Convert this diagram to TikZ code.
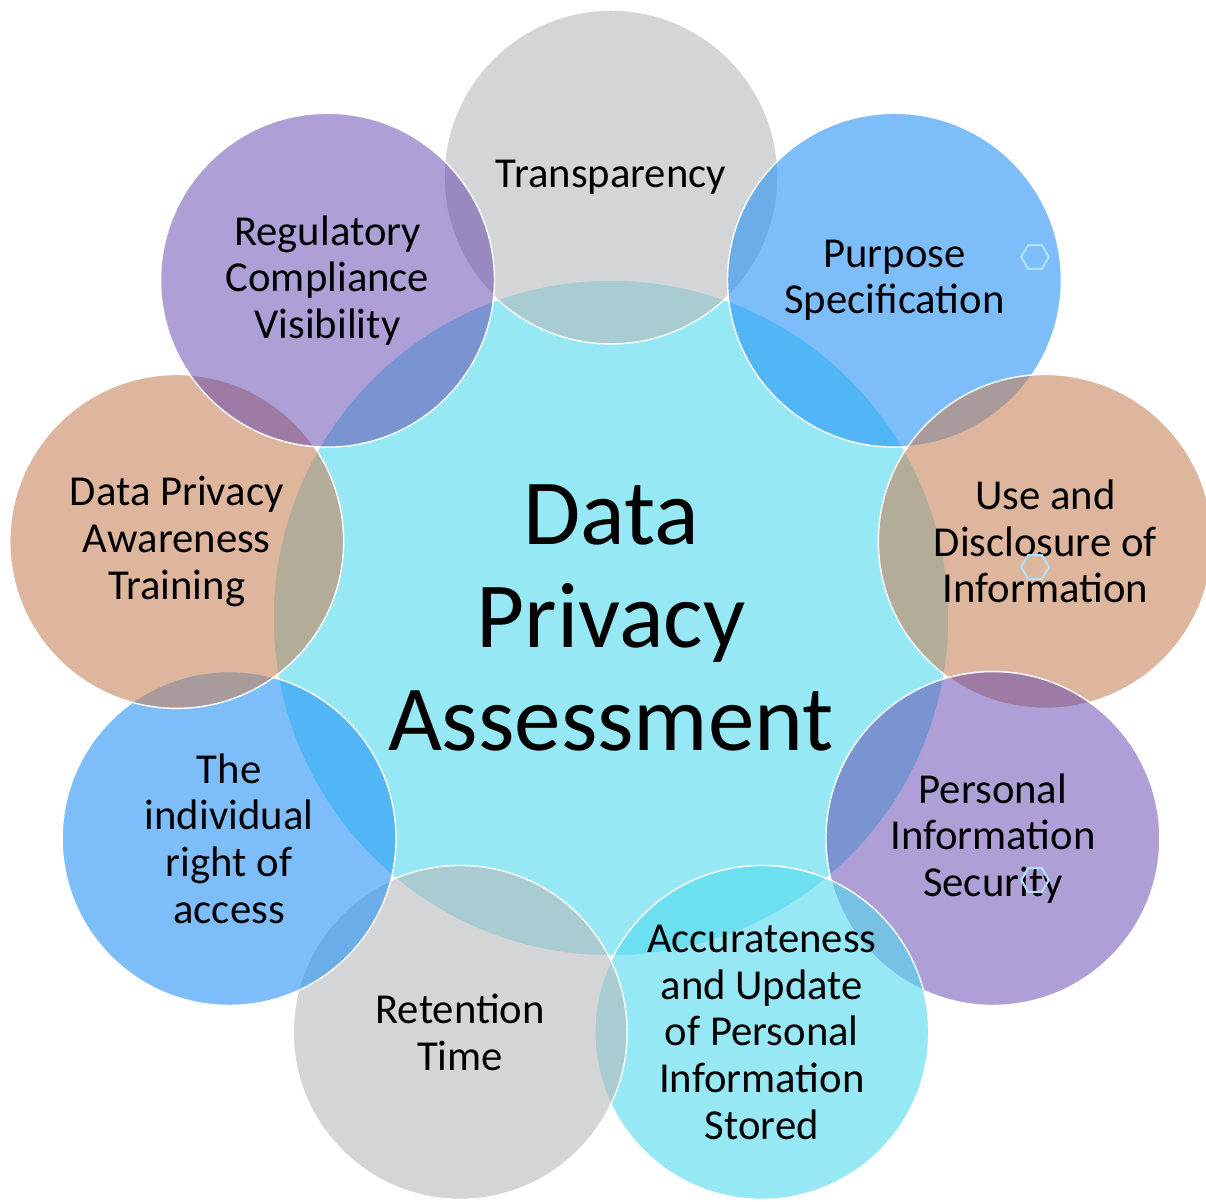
\documentclass[tikz,border=0pt]{standalone}
\usepackage{fontspec}
\setmainfont{Carlito}
\usepackage{tikz}
\usetikzlibrary{shapes.geometric}
\definecolor{chub}{RGB}{150,232,245}
\definecolor{cgray}{RGB}{182,185,187}
\definecolor{cblue}{RGB}{38,147,247}
\definecolor{ctan}{RGB}{198,133,92}
\definecolor{cpurple}{RGB}{93,65,173}
\definecolor{ccyan}{RGB}{80,217,238}
\definecolor{chex}{RGB}{175,225,248}

\begin{document}
\begin{tikzpicture}[x=0.02cm, y=0.02cm,
      hub/.style={circle, fill=chub, draw=white, line width=0.8pt, minimum size=13.52cm,
                  inner sep=0pt, align=center, font=\fontsize{53}{58.5}\selectfont},
      topic/.style={circle, fill opacity=0.6, text opacity=1, draw=white, line width=0.8pt,
                    minimum size=6.68cm, inner sep=0pt, align=center,
                    font=\fontsize{24.3}{26.5}\selectfont},
      hexmark/.style={regular polygon, regular polygon sides=6, draw=chex, line width=1.2pt,
                      minimum size=0.55cm, inner sep=0pt}
    ]
    \useasboundingbox (-611,-583) rectangle (595,618);
    \node[hub] (hub) at (0,0) {Data\\Privacy\\Assessment};
    \node[topic, fill=cgray] (transparency) at (90:441) {Transparency};
    \node[topic, fill=cblue] (purpose) at (50:441) {Purpose\\Specification};
    \node[topic, fill=ctan] (disclosure) at (10:441) {Use and\\Disclosure of\\Information};
    \node[topic, fill=cpurple, fill opacity=0.5] (security) at (-30:441) {Personal\\Information\\Security};
    \node[topic, fill=ccyan] (accuracy) at (-70:441) {Accurateness\\and Update\\of Personal\\Information\\Stored};
    \node[topic, fill=cgray] (retention) at (-110:441) {Retention\\Time};
    \node[topic, fill=cblue] (access) at (-150:441) {The\\individual\\right of\\access};
    \node[topic, fill=ctan] (training) at (170:441) {Data Privacy\\Awareness\\Training};
    \node[topic, fill=cpurple, fill opacity=0.5] (compliance) at (130:441) {Regulatory\\Compliance\\Visibility};
    \node[hexmark] (hexA) at (424,361) {};
    \node[hexmark] (hexB) at (424,51) {};
    \node[hexmark] (hexC) at (424,-262) {};
  \end{tikzpicture}
\end{document}
